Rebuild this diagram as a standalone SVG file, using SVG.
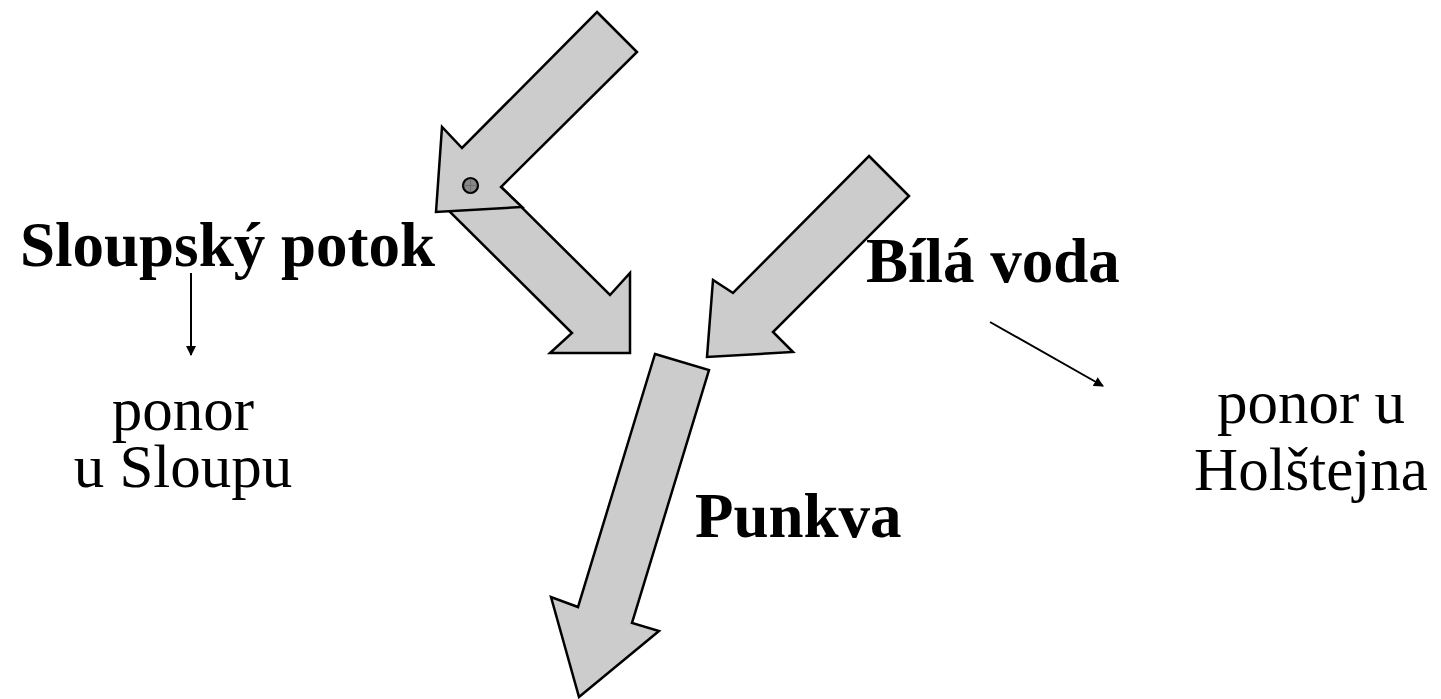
<svg xmlns="http://www.w3.org/2000/svg" width="1441" height="699" viewBox="0 0 1441 699">
<defs>
<style>
.big{fill:#cccccc;stroke:#000;stroke-width:2.5;stroke-linejoin:miter}
.b{font-family:"Liberation Serif","Times New Roman",serif;font-weight:bold;font-size:63px;fill:#000}
.r{font-family:"Liberation Serif","Times New Roman",serif;font-size:61px;fill:#000}
.thin{stroke:#000;stroke-width:2;fill:none}
</style>
<marker id="ah" viewBox="0 0 10 10" refX="9" refY="5" markerWidth="10" markerHeight="10" markerUnits="userSpaceOnUse" orient="auto">
<path d="M0,0 L10,5 L0,10 z" fill="#000"/>
</marker>
</defs>
<rect width="1441" height="699" fill="#fff"/>
<g id="arrow-sloupsky-down">
<polygon class="big" points="439,201 477,163 610,295 630,273 630,353 550,353 572,333"/>
</g>
<g id="arrow-sloupsky-in">
<polygon class="big" points="597,12 637,52 501,187 522,207 436,212 442,127 462,148"/>
<circle cx="470.5" cy="185.5" r="7.5" fill="#888" stroke="#000" stroke-width="2.2"/>
<path d="M463.5,185.5 H477.5 M470.5,178.5 V192.5" stroke="#666" stroke-width="0.8"/>
</g>
<g id="arrow-bila-voda">
<polygon class="big" points="869,156 909,196 773,332 793,352 707,357 713,280 733,293"/>
</g>
<g id="arrow-punkva">
<polygon class="big" points="655,354 709,370 632,623 659,631 579,697 551,597 578,607"/>
</g>
<g id="connectors">
<line class="thin" x1="191" y1="273" x2="191" y2="355" marker-end="url(#ah)"/>
<line class="thin" x1="990" y1="322" x2="1103" y2="386" marker-end="url(#ah)"/>
</g>
<g id="label-sloupsky"><text class="b" x="20" y="266">Sloupský potok</text></g>
<g id="label-ponor-sloup"><text class="r" text-anchor="middle" x="183" y="430">ponor</text><text class="r" text-anchor="middle" x="183" y="487">u Sloupu</text></g>
<g id="label-bila"><text class="b" x="866" y="282">Bílá voda</text></g>
<g id="label-punkva"><text class="b" x="695" y="537">Punkva</text></g>
<g id="label-ponor-holstejn"><text class="r" text-anchor="middle" x="1311" y="423">ponor u</text><text class="r" text-anchor="middle" x="1311" y="490">Holštejna</text></g>
</svg>
